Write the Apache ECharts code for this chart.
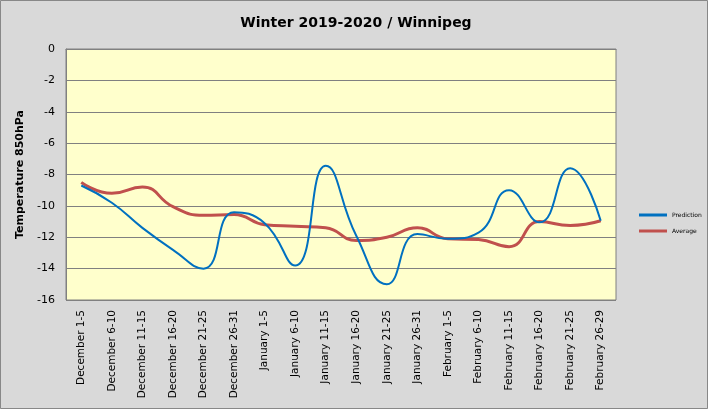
<!DOCTYPE html>
<html><head><meta charset="utf-8">
<script src="https://cdn.jsdelivr.net/npm/echarts@6/dist/echarts.min.js"></script>
<style>html,body{margin:0;padding:0;background:#d9d9d9}#c{width:708px;height:409px}</style>
</head><body><div id="c"></div>
<script>
var categories = ["December 1-5","December 6-10","December 11-15","December 16-20","December 21-25","December 26-31","January 1-5","January 6-10","January 11-15","January 16-20","January 21-25","January 26-31","February 1-5","February 6-10","February 11-15","February 16-20","February 21-25","February 26-29"];
var prediction = [-8.7,-9.8,-11.4,-12.8,-14.0,-10.4,-11.1,-13.8,-7.45,-11.9,-15.0,-11.8,-12.1,-11.7,-9.0,-11.05,-7.6,-10.95];
var average = [-8.5,-9.2,-8.8,-10.05,-10.6,-10.55,-11.2,-11.3,-11.4,-12.2,-12.0,-11.4,-12.1,-12.15,-12.6,-11.0,-11.25,-10.95];
var yTicks = [0,-2,-4,-6,-8,-10,-12,-14,-16];

var chart = echarts.init(document.getElementById('c'), null, {renderer:'canvas'});
chart.setOption({
  backgroundColor:'#d9d9d9',
  animation:false,
  title:{text:'Winter 2019-2020 / Winnipeg',left:351,textAlign:'center',top:11,
    textStyle:{fontFamily:'DejaVu Sans',fontWeight:'bold',fontSize:14,color:'#000'}},
  legend:{orient:'vertical',left:634,top:207,itemWidth:28,itemHeight:3,itemGap:10,
    icon:'rect',
    textStyle:{fontFamily:'DejaVu Sans',fontSize:6,color:'#000'},
    data:['Prediction','Average']},
  grid:{left:66,top:49,width:550,height:251,show:true,backgroundColor:'#ffffcc',borderColor:'#808080',borderWidth:1},
  xAxis:{type:'category',data:categories,boundaryGap:true,
    axisLine:{lineStyle:{color:'#808080'}},axisTick:{show:false},
    axisLabel:{rotate:90,fontFamily:'DejaVu Sans',fontSize:10.5,color:'#000',margin:10,interval:0}},
  yAxis:{type:'value',min:-16,max:0,interval:2,
    name:'Temperature 850hPa',nameLocation:'middle',nameGap:32,nameRotate:90,
    nameTextStyle:{fontFamily:'DejaVu Sans',fontWeight:'bold',fontSize:11,color:'#000'},
    axisLine:{show:true,lineStyle:{color:'#808080'}},axisTick:{show:false},
    axisLabel:{fontFamily:'DejaVu Sans',fontSize:11,color:'#000',margin:11,
      formatter:function(v){return yTicks.indexOf(v)>=0?String(v):'';}},
    splitLine:{lineStyle:{color:'#808080',width:1}}},
  series:[
    {name:'Prediction',type:'line',data:prediction,smooth:0.5,symbol:'none',
     lineStyle:{color:'#0070c0',width:2},itemStyle:{color:'#0070c0'},z:3},
    {name:'Average',type:'line',data:average,smooth:0.5,symbol:'none',
     lineStyle:{color:'#c0504d',width:3},itemStyle:{color:'#c0504d'},z:2}
  ],
  graphic:[{type:'rect',shape:{x:0.5,y:0.5,width:707,height:408},style:{fill:'none',stroke:'#888',lineWidth:1},z:100}]
});
</script></body></html>
